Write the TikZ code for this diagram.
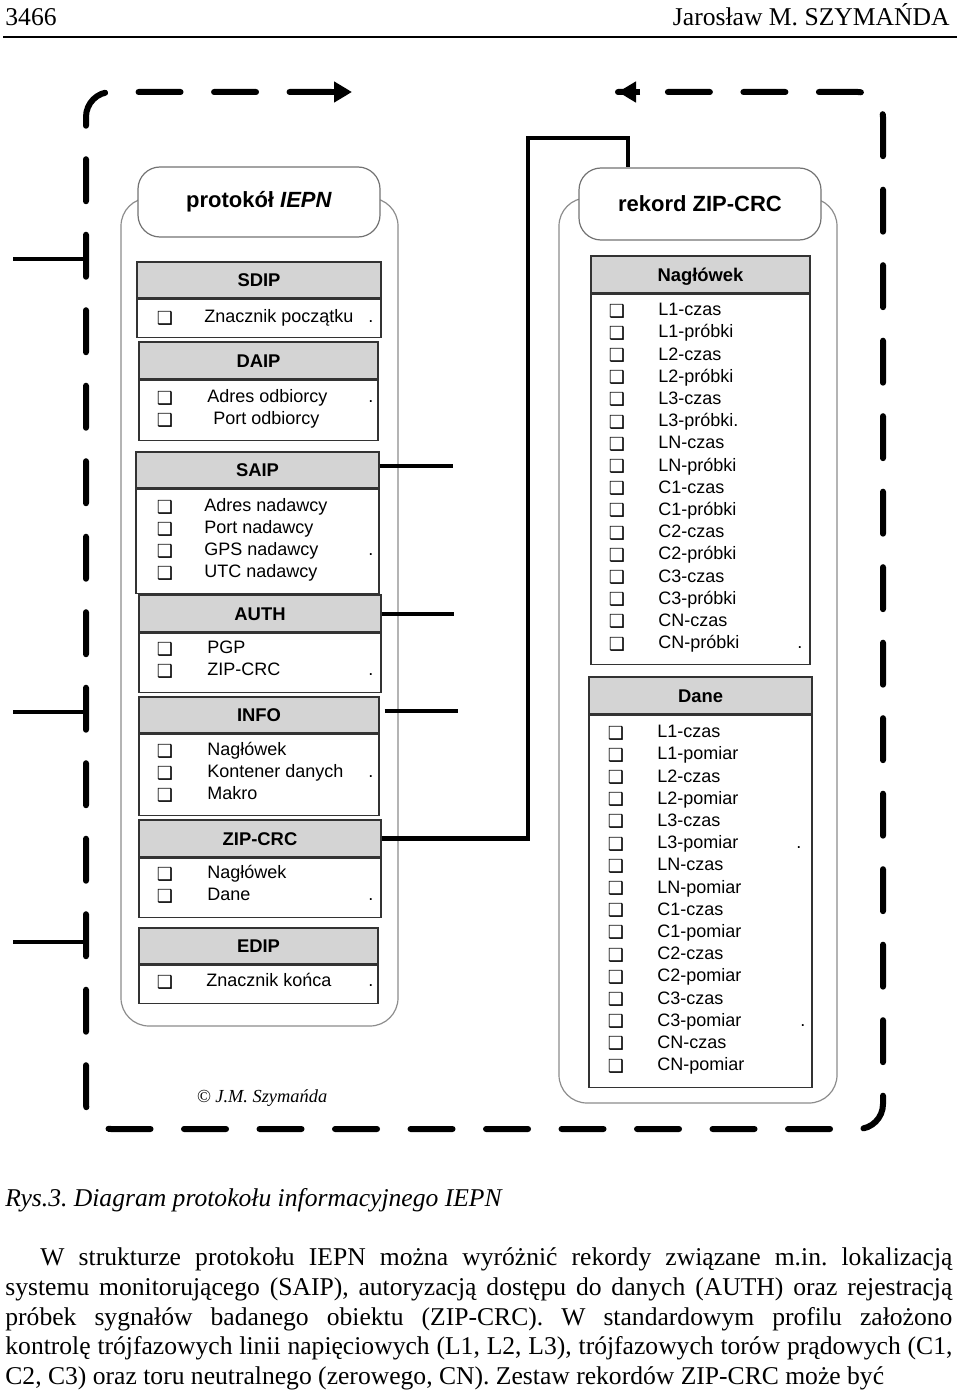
\documentclass[tikz,border=0pt]{standalone}
\usepackage{fontspec}
\setmainfont{Liberation Serif}
\setsansfont{Liberation Sans}
\newfontfamily\symfont{DejaVu Sans}
\usetikzlibrary{positioning,arrows.meta}
\newcommand{\chkbox}{{\symfont ❑}}
\frenchspacing

\begin{document}
\begin{tikzpicture}[x=0.5pt,y=-0.5pt]
        \tikzstyle{panel}=[draw=black!45,line width=0.6pt,rounded corners=14pt]
        \tikzstyle{title}=[draw=black!55,line width=0.6pt,fill=white,rounded corners=11pt,minimum width=121pt,font=\fontsize{11}{13}\selectfont\sffamily\bfseries]
        \tikzstyle{head}=[draw=black!80,line width=0.7pt,fill=black!17,inner sep=0pt,text height=6.8pt,text depth=0pt,font=\fontsize{9.2}{11}\selectfont\sffamily\bfseries]
        \tikzstyle{body}=[draw=black!80,line width=0.7pt,fill=white,inner sep=0pt,anchor=north]
        \tikzstyle{item}=[anchor=west,inner sep=0pt,text height=6.6pt,text depth=1.9pt,font=\fontsize{9}{10.5}\selectfont\sffamily]
        \tikzstyle{chk}=[inner sep=0pt,font=\fontsize{9}{10}\selectfont\bfseries]
        \tikzstyle{link}=[draw,line width=2.3pt]
        \tikzstyle{frame}=[draw,line width=3pt,line cap=round,dash pattern=on 21pt off 16.75pt,dash phase=12.8pt,rounded corners=12.5pt]
        \tikzstyle{tip}=[draw,line width=3pt,-{Triangle[length=9pt,width=10pt]}]
        \tikzstyle{page}=[inner sep=0pt,font=\fontsize{12.8}{14.75}\selectfont]
        \useasboundingbox (0,0) rectangle (960,1391);

        % page header
        \node [page,anchor=base west] (pgno) at (5,26) {3466};
        \node [page,anchor=base east] (author) at (950,26) {Jarosław M. SZYMAŃDA};
        \draw [line width=1pt] (3,37) -- (957,37);

        % dashed loop
        \path[frame] (618,92) -- (883,92) -- (883,1129) -- (86,1129) -- (86,92) -- (352,92);
        \draw[tip] (325,92) -- (352,92);
        \draw[tip] (640,92) -- (618,92);
        \coordinate (tap1) at (13,259);  \coordinate (join1) at (86,259);
        \coordinate (tap2) at (13,712);  \coordinate (join2) at (86,712);
        \coordinate (tap3) at (13,942);  \coordinate (join3) at (86,942);
        \path[link] (tap1) -- (join1);
        \path[link] (tap2) -- (join2);
        \path[link] (tap3) -- (join3);

        % panels
        \node [panel,minimum width=138.5pt,minimum height=414pt] (left) at (259.5,612) {};
        \node [panel,minimum width=139pt,minimum height=452.5pt] (right) at (698,650.5) {};
        \node [title,minimum height=35pt] (iepn) at (259,202) {protokół \textit{IEPN}};
        \node [title,minimum height=36pt] (rekord) at (700,204) {rekord ZIP-CRC};

        % left boxes
        \node [head,minimum width=122pt,minimum height=18pt] (sdip) at (259,280) {SDIP};
        \node [body,minimum width=122pt,minimum height=19pt] (sdipb) at (sdip.south) {};
        \node [head,minimum width=119.5pt,minimum height=18.5pt] (daip) at (258.5,360.5) {DAIP};
        \node [body,minimum width=119.5pt,minimum height=30pt] (daipb) at (daip.south) {};
        \node [head,minimum width=121.5pt,minimum height=18pt] (saip) at (257.5,470) {SAIP};
        \node [body,minimum width=121.5pt,minimum height=52pt] (saipb) at (saip.south) {};
        \node [head,minimum width=121pt,minimum height=18.5pt] (auth) at (260,613.5) {AUTH};
        \node [body,minimum width=121pt,minimum height=29.5pt] (authb) at (auth.south) {};
        \node [head,minimum width=120pt,minimum height=18pt] (info) at (259,715) {INFO};
        \node [body,minimum width=120pt,minimum height=40.5pt] (infob) at (info.south) {};
        \node [head,minimum width=121pt,minimum height=18.5pt] (zipcrc) at (260,838.5) {ZIP-CRC};
        \node [body,minimum width=121pt,minimum height=29.5pt] (zipcrcb) at (zipcrc.south) {};
        \node [head,minimum width=119.5pt,minimum height=18pt] (edip) at (258.5,946) {EDIP};
        \node [body,minimum width=119.5pt,minimum height=19pt] (edipb) at (edip.south) {};
        \foreach \y/\x/\txt [count=\i] in {318/204/Znacznik początku, 398/207/Adres odbiorcy, 420/213/Port odbiorcy,
            507/204/Adres nadawcy, 529/204/Port nadawcy, 551/204/GPS nadawcy, 573/204/UTC nadawcy,
            649/207/PGP, 671/207/ZIP-CRC, 751/207/Nagłówek, 773/207/Kontener danych, 795/207/Makro,
            874/207/Nagłówek, 896/207/Dane, 982/206/Znacznik końca}
          {
            \node [chk] (lbox\i) at (165,\y) {\chkbox};
            \node [item] (litem\i) at (\x,\y) {\txt};
          }
        \foreach \y [count=\i] in {318,398,551,671,773,896,982}
          \node [item] (ldot\i) at (368,\y) {.};

        % right boxes
        \node [head,minimum width=109.5pt,minimum height=18.5pt] (nagl) at (700.5,274.5) {Nagłówek};
        \node [body,minimum width=109.5pt,minimum height=185pt] (naglb) at (nagl.south) {};
        \node [head,minimum width=111.5pt,minimum height=18.5pt] (dane) at (700.5,695.5) {Dane};
        \node [body,minimum width=111.5pt,minimum height=186pt] (daneb) at (dane.south) {};
        \foreach \txt [count=\i from 0] in {L1-czas, L1-próbki, L2-czas, L2-próbki, L3-czas, L3-próbki., LN-czas, LN-próbki,
            C1-czas, C1-próbki, C2-czas, C2-próbki, C3-czas, C3-próbki, CN-czas, CN-próbki}
          {
            \node [chk] (nbox\i) at (617,{311+22.2*\i}) {\chkbox};
            \node [item] (nitem\i) at (658,{311+22.2*\i}) {\txt};
          }
        \foreach \txt [count=\i from 0] in {L1-czas, L1-pomiar, L2-czas, L2-pomiar, L3-czas, L3-pomiar, LN-czas, LN-pomiar,
            C1-czas, C1-pomiar, C2-czas, C2-pomiar, C3-czas, C3-pomiar, CN-czas, CN-pomiar}
          {
            \node [chk] (dbox\i) at (616,{733+22.2*\i}) {\chkbox};
            \node [item] (ditem\i) at (657,{733+22.2*\i}) {\txt};
          }
        \node [item] (ndot) at (797,644) {.};
        \node [item] (ddot1) at (796,844) {.};
        \node [item] (ddot2) at (800,1021.6) {.};

        % connectors
        \coordinate (saipend) at (453,466);
        \coordinate (authend) at (454,614);
        \coordinate (infoend) at (458,711);
        \coordinate (bend) at (528,138);
        \path[link] (saipend -| saip.east) -- (saipend);
        \path[link] (authend -| auth.east) -- (authend);
        \path[link,shorten <=2.5pt] (infoend -| info.east) -- (infoend);
        \path[link] (zipcrc.east) -| (bend) -| ([xshift=-36pt]rekord.north);

        \node [inner sep=0pt,font=\fontsize{9.2}{11}\selectfont\itshape] (copy) at (262,1098) {© J.M. Szymańda};

        % caption and text
        \node [page,anchor=base west] (caption) at (5,1206) {\itshape Rys.3. Diagram protokołu informacyjnego IEPN};
        \node [page,anchor=base west] (line1) at (40,1265) {\makebox[456pt][s]{W strukturze protokołu IEPN można wyróżnić rekordy związane m.in. lokalizacją}};
        \node [page,anchor=base west] (line2) at (5,1295) {\makebox[473.5pt][s]{systemu monitorującego (SAIP), autoryzacją dostępu do danych (AUTH) oraz rejestracją}};
        \node [page,anchor=base west] (line3) at (5,1325) {\makebox[473.5pt][s]{próbek sygnałów badanego obiektu (ZIP-CRC). W standardowym profilu założono}};
        \node [page,anchor=base west] (line4) at (5,1354) {\makebox[473.5pt][s]{kontrolę trójfazowych linii napięciowych (L1, L2, L3), trójfazowych torów prądowych (C1,}};
        \node [page,anchor=base west] (line5) at (5,1384) {C2, C3) oraz toru neutralnego (zerowego, CN). Zestaw rekordów ZIP-CRC może być};
\end{tikzpicture}
\end{document}
